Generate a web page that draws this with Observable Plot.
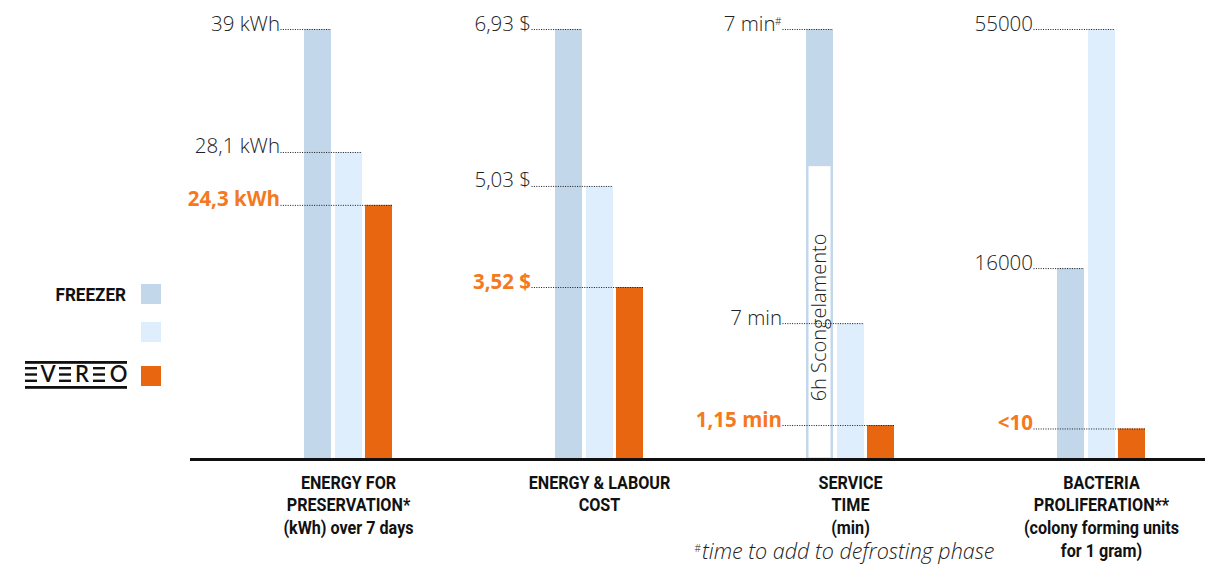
<!DOCTYPE html>
<html>
<head>
<meta charset="utf-8">
<script src="https://cdn.jsdelivr.net/npm/d3@7"></script>
<script src="https://cdn.jsdelivr.net/npm/@observablehq/plot@0.6"></script>
<style>
  html, body { margin: 0; padding: 0; background: #fff; }
  #wrap { position: relative; width: 1223px; height: 566px; overflow: hidden; }
  #chart { position: absolute; left: 0; top: 0; }
  #legend { position: absolute; left: 0; top: 0; }
</style>
</head>
<body>
<div id="wrap"><div id="chart"></div><svg id="legend" width="190" height="566"></svg></div>
<script>
// ---------------- data ----------------
const groups = ["energy", "cost", "time", "bacteria"];
const groupTitles = [
  "ENERGY FOR\nPRESERVATION*\n(kWh) over 7 days",
  "ENERGY & LABOUR\nCOST",
  "SERVICE\nTIME\n(min)",
  "BACTERIA\nPROLIFERATION**\n(colony forming units\nfor 1 gram)"
];
const series = ["freezer", "other", "evereo"];
const seriesLegend = ["FREEZER", "", "EVEREO"];

const freezerValues = [39, 6.93, 7, 16000];
const otherValues   = [28.1, 5.03, 7, 55000];
const evereoValues  = [24.3, 3.52, 1.15, 10];

const freezerLabels = ["39 kWh", "6,93 $", "7 min#", "16000"];
const otherLabels   = ["28,1 kWh", "5,03 $", "7 min", "55000"];
const evereoLabels  = ["24,3 kWh", "3,52 $", "1,15 min", "<10"];

// The chart is not drawn to scale: bar heights,
// in % of the tallest bar of each group.
const freezerHeights = [100, 100, 100, 44.4];
const otherHeights   = [71.4, 63.5, 31.6, 100];
const evereoHeights  = [59.1, 40.0, 7.9, 7.1];

const defrostGroup = "time";
const defrostHeight = 68.1;
const defrostLabel = "6h Scongelamento";
const footnote = "time to add to defrosting phase";

// ---------------- table ----------------
const valuesBy = [freezerValues, otherValues, evereoValues];
const labelsBy = [freezerLabels, otherLabels, evereoLabels];
const heightsBy = [freezerHeights, otherHeights, evereoHeights];
const table = [];
series.forEach((s, i) => groups.forEach((g, j) => table.push({
  series: s, group: g, value: valuesBy[i][j], label: labelsBy[i][j], height: heightsBy[i][j]
})));

// ---------------- styles ----------------
const colors = ["#c2d7ea", "#dfeefc", "#e8660f"];
const labelColors = ["#222", "#222", "#f47920"];
const labelWeights = [300, 300, 700];
const insets = [[0, 61], [31, 30], [61, 0]];
const lightFont = "'Open Sans', Roboto, 'Liberation Sans', sans-serif";
const boldFont = "Roboto, 'Liberation Sans', sans-serif";
const NARROW = 0.85;

const marks = [];
series.forEach((s, i) => {
  const rows = table.filter(d => d.series === s);
  marks.push(Plot.barY(rows, {
    x: "group", y: "height", fill: colors[i],
    insetLeft: insets[i][0], insetRight: insets[i][1]
  }));
});
// defrosting phase box inside the freezer "service time" bar
marks.push(Plot.barY([{group: defrostGroup, height: defrostHeight}], {
  x: "group", y: "height", fill: "white",
  insetLeft: 2.5, insetRight: insets[0][1] + 2.5, insetBottom: 1.5
}));
marks.push(Plot.text([{group: defrostGroup, y: defrostHeight * 0.485, label: defrostLabel}], {
  x: "group", y: "y", text: "label", rotate: -90, dx: -30.5,
  textAnchor: "middle", lineAnchor: "middle",
  fontFamily: lightFont, fontWeight: 300, fontSize: 20, fill: "#222"
}));
// dotted leader lines + value labels
series.forEach((s, i) => {
  const rows = table.filter(d => d.series === s);
  marks.push(Plot.tickY(rows, {
    x: "group", y: "height", stroke: "#1a1a1a", strokeWidth: 1, strokeDasharray: "1,1.4",
    insetLeft: -23.5, insetRight: insets[i][1]
  }));
  const plain = rows.filter(d => !d.label.endsWith("#"));
  const marked = rows.filter(d => d.label.endsWith("#"));
  marks.push(Plot.text(plain, {
    x: "group", y: "height", text: "label", textAnchor: "end", lineAnchor: "bottom",
    dx: -68.5, dy: 1, fill: labelColors[i], fontFamily: lightFont,
    fontWeight: labelWeights[i], fontSize: 20.5
  }));
  marks.push(Plot.text(marked, {
    x: "group", y: "height", text: d => d.label.slice(0, -1), textAnchor: "end", lineAnchor: "bottom",
    dx: -75, dy: 1, fill: labelColors[i], fontFamily: lightFont,
    fontWeight: labelWeights[i], fontSize: 20.5
  }));
  marks.push(Plot.text(marked, {
    x: "group", y: "height", text: () => "#", textAnchor: "end", lineAnchor: "bottom",
    dx: -69, dy: -5, fill: labelColors[i], fontFamily: lightFont,
    fontWeight: labelWeights[i], fontSize: 10
  }));
});
// baseline
marks.push(Plot.ruleY([0], {stroke: "#111", strokeWidth: 3}));
// category titles
marks.push(Plot.text(groups.map((g, j) => ({group: g, title: groupTitles[j]})), {
  x: "group", text: "title", frameAnchor: "bottom", lineAnchor: "top", dy: 13,
  lineHeight: 1.2, fontFamily: boldFont, fontWeight: 700, fontSize: 19, fill: "#111",
  ariaDescription: "titles"
}));
// footnote
marks.push(Plot.text([{group: defrostGroup, t: footnote}], {
  x: "group", text: "t", frameAnchor: "bottom", lineAnchor: "bottom", dy: 99, dx: -148.5,
  textAnchor: "start", fontFamily: lightFont, fontWeight: 300, fontStyle: "italic",
  fontSize: 21.5, fill: "#222"
}));
marks.push(Plot.text([{group: defrostGroup}], {
  x: "group", text: () => "#", frameAnchor: "bottom", lineAnchor: "bottom", dy: 92, dx: -149.5,
  textAnchor: "end", fontFamily: lightFont, fontWeight: 300, fontSize: 10, fill: "#222"
}));

const chart = Plot.plot({
  width: 1223,
  height: 566,
  marginTop: 29,
  marginBottom: 107,
  marginLeft: 190,
  marginRight: 18,
  x: {domain: groups, range: [303, 1145], paddingInner: 0.65, paddingOuter: 0, axis: null},
  y: {domain: [0, 100], axis: null},
  style: {fontFamily: lightFont, background: "white", overflow: "visible"},
  marks
});
document.getElementById("chart").appendChild(chart);

// condensed look for the bold category titles (no condensed font installed)
d3.select(chart).selectAll('g[aria-description="titles"] text').each(function () {
  const t = d3.select(this);
  const tr = t.attr("transform") || "";
  const x = +t.attr("x") || 0, y = +t.attr("y") || 0;
  t.attr("transform", `${tr} translate(${x},${y}) scale(${NARROW},1)`).attr("x", null).attr("y", null);
  t.selectAll("tspan").each(function () {
    const s = d3.select(this);
    if (s.attr("x") != null) s.attr("x", 0);
  });
});

// ---------------- legend ----------------
const lg = d3.select("#legend");
const swatchY = [284, 322, 366];
series.forEach((s, i) => {
  lg.append("rect").attr("x", 141).attr("y", swatchY[i]).attr("width", 20).attr("height", 20).attr("fill", colors[i]);
});
lg.append("text").attr("transform", `translate(126,301) scale(0.9,1)`).attr("text-anchor", "end")
  .attr("font-family", boldFont).attr("font-weight", 700).attr("font-size", 19).attr("fill", "#111")
  .text(seriesLegend[0]);
// EVEREO logo
const logo = lg.append("g").attr("transform", "translate(25,361)");
logo.append("rect").attr("x", 0).attr("y", 0).attr("width", 102).attr("height", 2.8).attr("fill", "#111");
logo.append("rect").attr("x", 0).attr("y", 25).attr("width", 102).attr("height", 2.8).attr("fill", "#111");
const letters = seriesLegend[2].split("");
const pitch = 17;
letters.forEach((ch, k) => {
  const x0 = k * pitch;
  if (ch === "E") {
    [6, 12.3, 18.6].forEach(yy => logo.append("rect").attr("x", x0).attr("y", yy).attr("width", 12).attr("height", 2.4).attr("fill", "#111"));
  } else {
    logo.append("text").attr("x", x0 + (ch === "O" ? 8.5 : 6)).attr("y", 21).attr("text-anchor", "middle")
      .attr("font-family", "Lato, 'Open Sans', sans-serif").attr("font-weight", 600).attr("font-size", 22)
      .attr("fill", "#111").text(ch);
  }
});
</script>
</body>
</html>
